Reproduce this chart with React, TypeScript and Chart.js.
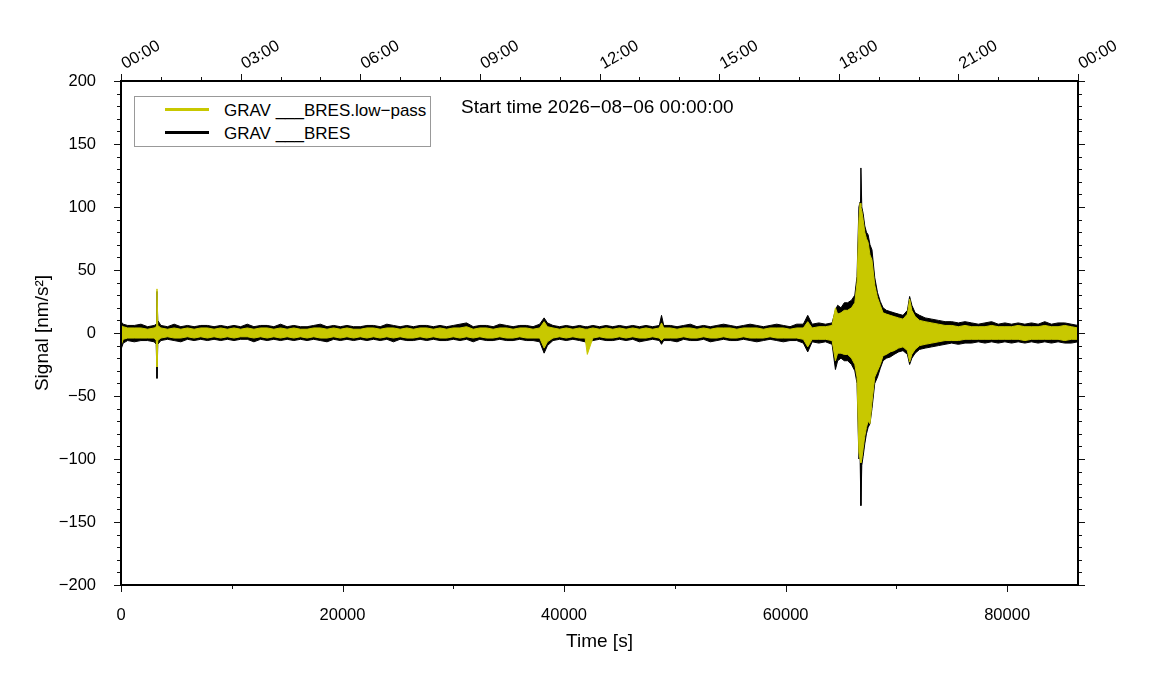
import { useEffect, useRef } from "react";
import { Chart, registerables } from "chart.js";

Chart.register(...registerables);

// sample times in seconds since start (denser around the event)
const times = [
  0, 200, 600, 1200, 1800, 2400, 3000, 3180, 3250, 3320,
  3600, 4200, 4800, 5400, 6000, 6600, 7200, 7800, 8400, 9000,
  9600, 10200, 10800, 11400, 12000, 12600, 13200, 13800, 14400, 15000,
  15600, 16200, 16800, 17400, 18000, 18600, 19200, 19800, 20400, 21000,
  21600, 22200, 22800, 23400, 24000, 24600, 25200, 25800, 26400, 27000,
  27600, 28200, 28800, 29400, 30000, 30600, 31200, 31800, 32400, 33000,
  33600, 34200, 34800, 35400, 36000, 36600, 37200, 37800, 38200, 38500,
  39000, 39600, 40200, 40800, 41400, 41900, 42100, 42600, 43200, 43800,
  44400, 45000, 45600, 46200, 46800, 47400, 48000, 48600, 48800, 49000,
  49600, 50200, 50800, 51400, 52000, 52600, 53200, 53800, 54400, 55000,
  55600, 56200, 56800, 57400, 58000, 58600, 59200, 59800, 60400, 61000,
  61600, 62000, 62400, 63000, 63600, 64200, 64500, 64700, 65000, 65300,
  65600, 65950, 66250, 66450, 66620, 66720, 66800, 66880, 67000, 67150,
  67300, 67450, 67620, 67800, 68050, 68300, 68550, 68800, 69100, 69450,
  69800, 70200, 70600, 71000, 71200, 71400, 71700, 72100, 72600, 73200,
  73800, 74400, 75000, 75600, 76200, 76800, 77400, 78000, 78600, 79200,
  79800, 80400, 81000, 81600, 82200, 82800, 83400, 84000, 84600, 85200,
  85800, 86400,
];

// raw signal envelope (max / min per sample window), nm/s^2
const rawHi = [
  9, 7, 6, 6, 7, 5, 6, 7, 33, 10,
  6, 5, 7, 5, 6, 5, 6, 6, 5, 6,
  5, 6, 5, 7, 5, 6, 6, 5, 7, 5,
  6, 5, 5, 6, 7, 5, 6, 5, 6, 5,
  5, 6, 6, 5, 7, 6, 5, 6, 5, 6,
  6, 5, 6, 5, 6, 7, 8, 5, 6, 6,
  5, 7, 6, 5, 6, 6, 5, 7, 12, 8,
  6, 5, 6, 5, 6, 5, 5, 6, 5, 6,
  5, 6, 5, 6, 5, 6, 5, 6, 14, 6,
  6, 5, 6, 7, 5, 6, 5, 6, 7, 6,
  5, 6, 7, 6, 5, 6, 7, 6, 5, 7,
  7, 14, 7, 8, 7, 8, 18, 22, 20, 24,
  24, 26, 30, 45, 100, 104, 131, 100, 95, 85,
  80, 78, 70, 66, 44, 32, 25, 20, 18, 17,
  16, 15, 14, 18, 29, 22, 16, 14, 12, 11,
  10, 9, 9, 8, 9, 8, 7, 8, 9, 7,
  8, 7, 8, 7, 8, 7, 9, 7, 8, 8,
  7, 6,
];
const rawLo = [
  -13, -8, -6, -7, -6, -6, -7, -9, -36, -9,
  -6, -5, -6, -7, -5, -6, -5, -6, -5, -6,
  -5, -6, -5, -5, -7, -5, -6, -5, -6, -5,
  -6, -5, -6, -5, -6, -7, -5, -6, -5, -6,
  -5, -6, -5, -6, -5, -7, -5, -6, -6, -5,
  -6, -5, -6, -6, -5, -6, -5, -7, -5, -6,
  -6, -5, -6, -6, -5, -6, -6, -7, -16, -10,
  -6, -5, -6, -5, -6, -7, -8, -6, -5, -6,
  -6, -5, -6, -5, -7, -6, -5, -6, -9, -6,
  -6, -7, -5, -6, -6, -5, -7, -6, -5, -6,
  -6, -5, -6, -7, -6, -5, -6, -7, -6, -6,
  -8, -15, -7, -8, -7, -9, -29, -22, -20, -22,
  -22, -25, -30, -40, -100, -95, -137, -105, -98, -88,
  -80, -75, -72, -60, -40, -35, -28, -22, -20, -19,
  -17, -15, -14, -17, -25, -20, -16, -13, -12, -11,
  -10, -9, -8, -9, -8, -8, -7, -8, -7, -8,
  -7, -8, -7, -8, -7, -8, -7, -8, -7, -8,
  -8, -7,
];

// low-pass filtered envelope
const lowHi = [
  6, 5, 4, 4, 4, 3, 4, 5, 35, 6,
  4, 3, 4, 3, 4, 3, 4, 4, 3, 4,
  3, 4, 3, 4, 3, 4, 4, 3, 4, 3,
  4, 3, 3, 4, 4, 3, 4, 3, 4, 3,
  3, 4, 4, 3, 4, 4, 3, 4, 3, 4,
  4, 3, 4, 3, 4, 4, 5, 3, 4, 4,
  3, 4, 4, 3, 4, 4, 3, 4, 9, 5,
  4, 3, 4, 3, 4, 3, 3, 4, 3, 4,
  3, 4, 3, 4, 3, 4, 3, 4, 8, 4,
  4, 3, 4, 4, 3, 4, 3, 4, 4, 4,
  3, 4, 4, 4, 3, 4, 4, 4, 3, 4,
  4, 9, 4, 5, 5, 6, 20, 15, 16, 18,
  18, 20, 24, 40, 90, 103, 100, 97, 90, 80,
  75, 72, 62, 58, 38, 28, 22, 16, 15, 14,
  13, 12, 11, 15, 27, 18, 13, 10, 9, 8,
  7, 6, 6, 5, 6, 5, 5, 5, 6, 5,
  5, 5, 6, 5, 5, 5, 6, 5, 5, 6,
  5, 4,
];
const lowLo = [
  -10, -5, -4, -4, -4, -4, -4, -6, -27, -6,
  -4, -3, -4, -4, -3, -4, -3, -4, -3, -4,
  -3, -4, -3, -3, -4, -3, -4, -3, -4, -3,
  -4, -3, -4, -3, -4, -4, -3, -4, -3, -4,
  -3, -4, -3, -4, -3, -4, -3, -4, -4, -3,
  -4, -3, -4, -4, -3, -4, -3, -4, -3, -4,
  -4, -3, -4, -4, -3, -4, -4, -4, -12, -7,
  -4, -3, -4, -3, -4, -4, -17, -4, -3, -4,
  -4, -3, -4, -3, -4, -4, -3, -4, -6, -4,
  -4, -4, -3, -4, -4, -3, -4, -4, -3, -4,
  -4, -3, -4, -4, -4, -3, -4, -4, -4, -4,
  -5, -11, -5, -5, -5, -6, -22, -16, -16, -17,
  -17, -20, -25, -35, -95, -100, -103, -100, -92, -82,
  -75, -70, -72, -55, -35, -30, -25, -18, -17, -15,
  -14, -12, -11, -14, -23, -17, -13, -10, -9, -8,
  -7, -6, -6, -6, -5, -5, -5, -5, -5, -5,
  -5, -5, -5, -6, -5, -5, -5, -5, -5, -6,
  -5, -5,
];

const xTicks = [0, 20000, 40000, 60000, 80000];
const xTickLabels = ["0", "20000", "40000", "60000", "80000"];
const xMinor = [10000, 30000, 50000, 70000];
const hourTicks = [0, 10800, 21600, 32400, 43200, 54000, 64800, 75600, 86400];
const hourLabels = ["00:00", "03:00", "06:00", "09:00", "12:00", "15:00", "18:00", "21:00", "00:00"];
const yTicks = [-200, -150, -100, -50, 0, 50, 100, 150, 200];
const yTickLabels = ["\u2212200", "\u2212150", "\u2212100", "\u221250", "0", "50", "100", "150", "200"];

const YELLOW = "rgb(200,200,0)";
const FONT = '"Liberation Sans", Arial, Helvetica, sans-serif';

const hourMinor: number[] = [];
for (let t = 3600; t < 86400; t += 3600) if (t % 10800 !== 0) hourMinor.push(t);
const yMinor: number[] = [];
for (let v = -190; v < 200; v += 10) if (v % 50 !== 0) yMinor.push(v);

// frame + outward tick marks (major and minor), like a GMT basemap
const frameTicks = {
  id: "frameTicks",
  afterDraw(chart: any) {
    const { ctx, chartArea: a, scales } = chart;
    const line = (x1: number, y1: number, x2: number, y2: number) => {
      ctx.beginPath();
      ctx.moveTo(x1, y1);
      ctx.lineTo(x2, y2);
      ctx.stroke();
    };
    const px = (v: number) => Math.round(scales.x.getPixelForValue(v)) + 0.5;
    const py = (v: number) => Math.round(scales.y.getPixelForValue(v)) + 0.5;
    ctx.save();
    ctx.strokeStyle = "#111";
    ctx.lineWidth = 1;
    xTicks.forEach((v) => line(px(v), a.bottom, px(v), a.bottom + 7));
    xMinor.forEach((v) => line(px(v), a.bottom, px(v), a.bottom + 4));
    hourTicks.forEach((v) => line(px(v), a.top, px(v), a.top - 7));
    hourMinor.forEach((v) => line(px(v), a.top, px(v), a.top - 4));
    yTicks.forEach((v) => {
      line(a.left - 7, py(v), a.left, py(v));
      line(a.right, py(v), a.right + 7, py(v));
    });
    yMinor.forEach((v) => {
      line(a.left - 4, py(v), a.left, py(v));
      line(a.right, py(v), a.right + 4, py(v));
    });
    ctx.lineWidth = 2;
    ctx.strokeStyle = "#000";
    ctx.strokeRect(a.left, a.top, a.right - a.left, a.bottom - a.top);
    ctx.restore();
  },
};

const SignalChart = () => {
  const canvasRef = useRef<HTMLCanvasElement>(null);

  useEffect(() => {
    const pts = (vals: number[]) => times.map((t, i) => ({ x: t, y: vals[i] }));
    const band = (vals: number[], color: string, fill: any) => ({
      data: pts(vals),
      borderColor: color,
      backgroundColor: color,
      borderWidth: 1,
      pointRadius: 0,
      tension: 0,
      fill,
    });

    const chart = new Chart(canvasRef.current!, {
      type: "line",
      data: {
        datasets: [
          { label: "GRAV ___BRES.low-pass max", ...band(lowHi, YELLOW, false) },
          { label: "GRAV ___BRES.low-pass min", ...band(lowLo, YELLOW, "-1") },
          { label: "GRAV ___BRES max", ...band(rawHi, "#000", false) },
          { label: "GRAV ___BRES min", ...band(rawLo, "#000", "-1") },
        ],
      },
      plugins: [frameTicks],
      options: {
        animation: false,
        responsive: true,
        maintainAspectRatio: false,
        layout: { padding: 0 },
        plugins: { legend: { display: false }, tooltip: { enabled: false } },
        scales: {
          x: {
            type: "linear",
            position: "bottom",
            min: 0,
            max: 86400,
            grid: { display: false },
            border: { display: false },
            afterBuildTicks: (s: any) => {
              s.ticks = xTicks.map((value) => ({ value }));
            },
            afterFit: (s: any) => {
              s.height = 115;
            },
            ticks: {
              padding: 13,
              maxRotation: 0,
              autoSkip: false,
              color: "#000",
              font: { family: FONT, size: 16.5 },
              callback: (_v: any, i: number) => xTickLabels[i],
            },
            title: {
              display: true,
              text: "Time [s]",
              color: "#000",
              font: { family: FONT, size: 19 },
              padding: { top: 0, bottom: 47 },
            },
          },
          xTop: {
            type: "linear",
            position: "top",
            min: 0,
            max: 86400,
            grid: { display: false },
            border: { display: false },
            afterBuildTicks: (s: any) => {
              s.ticks = hourTicks.map((value) => ({ value }));
            },
            afterFit: (s: any) => {
              s.height = 81;
            },
            ticks: {
              padding: -1,
              labelOffset: 12,
              minRotation: 30,
              maxRotation: 30,
              autoSkip: false,
              color: "#000",
              font: { family: FONT, size: 16.5 },
              callback: (_v: any, i: number) => hourLabels[i],
            },
          },
          y: {
            type: "linear",
            position: "left",
            min: -200,
            max: 200,
            grid: { display: false },
            border: { display: false },
            afterBuildTicks: (s: any) => {
              s.ticks = yTicks.map((value) => ({ value }));
            },
            afterFit: (s: any) => {
              s.width = 121;
            },
            ticks: {
              padding: 17,
              color: "#000",
              font: { family: FONT, size: 16.5 },
              callback: (_v: any, i: number) => yTickLabels[i],
            },
            title: {
              display: true,
              text: "Signal [nm/s\u00b2]",
              color: "#000",
              font: { family: FONT, size: 19 },
              padding: { top: 31, bottom: 0 },
            },
          },
          yRight: {
            type: "linear",
            position: "right",
            min: -200,
            max: 200,
            grid: { display: false },
            border: { display: false },
            ticks: { display: false },
            afterFit: (s: any) => {
              s.width = 73;
            },
          },
        },
      },
    });

    return () => chart.destroy();
  }, []);

  return <canvas ref={canvasRef}></canvas>;
};

const legendRow = (color: string, text: string, top: number) => (
  <div style={{ position: "absolute", left: 0, top, width: "100%", height: 17 }}>
    <div
      style={{
        position: "absolute",
        left: 30,
        top: 6,
        width: 44,
        height: 3,
        background: color,
      }}
    />
    <div
      style={{
        position: "absolute",
        left: 89,
        top: 0,
        lineHeight: "17px",
        fontSize: 17,
        whiteSpace: "nowrap",
      }}
    >
      {text}
    </div>
  </div>
);

export default function App() {
  return (
    <div
      style={{
        position: "fixed",
        left: 0,
        top: 0,
        width: 1151,
        height: 700,
        background: "#fff",
        fontFamily: FONT,
        color: "#000",
      }}
    >
      <SignalChart />
      <div
        style={{
          position: "absolute",
          left: 134,
          top: 96,
          width: 297,
          height: 51,
          boxSizing: "border-box",
          border: "1px solid #999",
          background: "#fff",
        }}
      >
        {legendRow(YELLOW, "GRAV ___BRES.low\u2212pass", 5)}
        {legendRow("#000", "GRAV ___BRES", 28)}
      </div>
      <div
        style={{
          position: "absolute",
          left: 461,
          top: 97,
          fontSize: 19,
          lineHeight: "19px",
          whiteSpace: "nowrap",
        }}
      >
        Start time 2026{"\u2212"}08{"\u2212"}06 00:00:00
      </div>
    </div>
  );
}
